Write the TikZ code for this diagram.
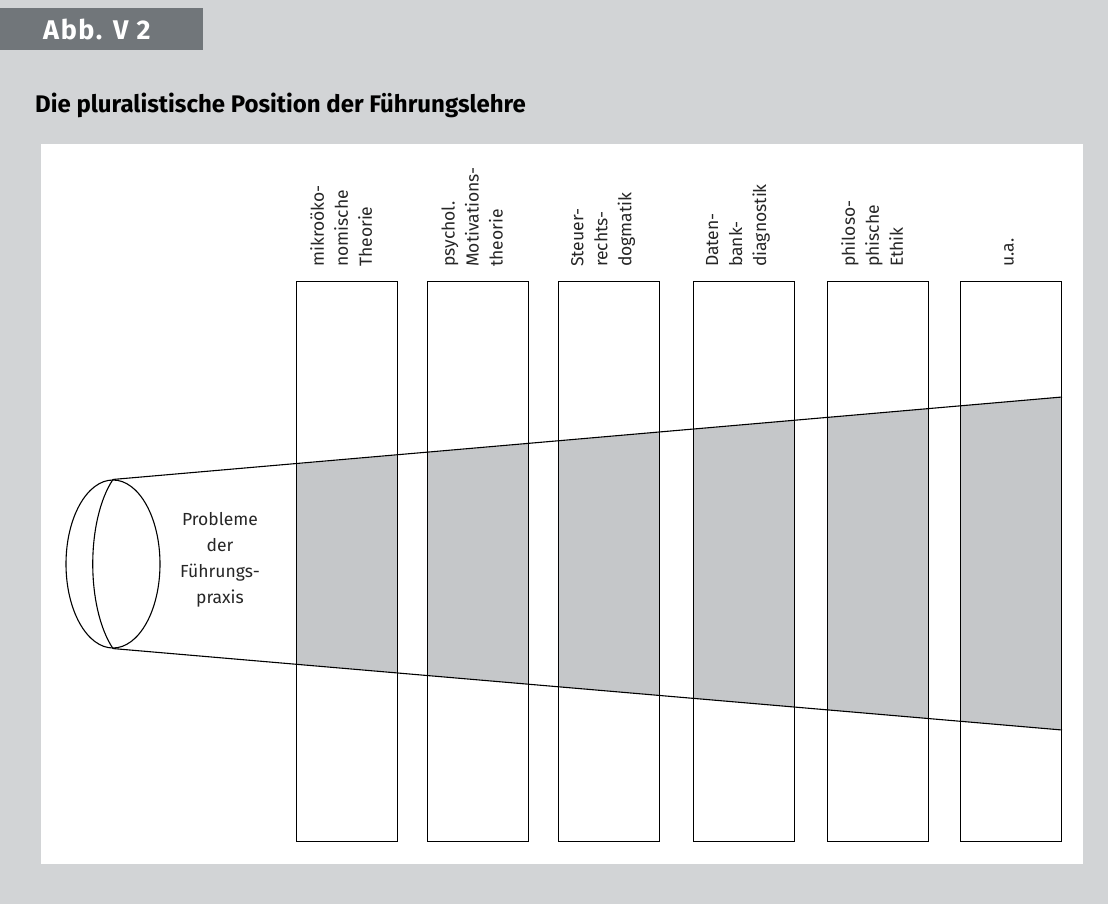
\documentclass[tikz,border=0pt]{standalone}
\usepackage{fontspec}
\setmainfont{Fira Sans}
\usetikzlibrary{shapes.geometric}
\definecolor{bggray}{HTML}{D2D4D6}
\definecolor{tabgray}{HTML}{71767A}
\definecolor{fillgray}{HTML}{C5C7C9}
\begin{document}
\begin{tikzpicture}[x=1pt,y=-1pt,
  colbox/.style={draw=black, line width=1.1pt, minimum width=101pt, minimum height=560pt, inner sep=0pt, anchor=north west},
  collabel/.style={rotate=90, anchor=west, align=left, font=\fontsize{17.5}{24}\selectfont, inner sep=0pt, text=black!85},
  edge/.style={line width=1.1pt}]
\useasboundingbox (0,0) rectangle (1108,904);
\fill[bggray] (0,0) rectangle (1108,904);
\fill[tabgray] (0,8) rectangle (203,50);
\node[anchor=west, text=white, font=\bfseries\fontsize{27}{30}\selectfont\addfontfeatures{LetterSpace=6}, inner sep=0pt] (tab) at (43,29) {Abb. V 2};
\node[anchor=base west, font=\bfseries\fontsize{24}{28}\selectfont, inner sep=0pt] (title) at (35,113) {Die pluralistische Position der Führungslehre};
\fill[white] (41,144) rectangle (1083,864);
% coordinates of the cone
\coordinate (tL) at (115,480);
\coordinate (bL) at (113,648);
\coordinate (tR) at (1062,397);
\coordinate (bR) at (1062,730);
% shaded parts
\foreach \x in {296,427,558,693,827,960}{
  \begin{scope}
    \clip (\x,281) rectangle ++(101,560);
    \fill[fillgray] (tL) -- (tR) -- (bR) -- (bL) -- cycle;
  \end{scope}
}
% columns
\node[colbox] (c1) at (296,281) {};
\node[colbox] (c2) at (427,281) {};
\node[colbox] (c3) at (558,281) {};
\node[colbox] (c4) at (693,281) {};
\node[colbox] (c5) at (827,281) {};
\node[colbox] (c6) at (960,281) {};
% labels
\node[collabel] (l1) at ([xshift=-6pt]c1.north |- 0,267) {mikroöko-\\nomische\\Theorie};
\node[collabel] (l2) at ([xshift=-6pt]c2.north |- 0,267) {psychol.\\Motivations-\\theorie};
\node[collabel] (l3) at ([xshift=-6pt]c3.north |- 0,267) {Steuer-\\rechts-\\dogmatik};
\node[collabel] (l4) at ([xshift=-6pt]c4.north |- 0,267) {Daten-\\bank-\\diagnostik};
\node[collabel] (l5) at ([xshift=-6pt]c5.north |- 0,267) {philoso-\\phische\\Ethik};
\node[collabel] (l6) at ([xshift=-2pt]c6.north |- 0,267) {u.a.};
% cone
\node[draw, ellipse, line width=1.1pt, minimum width=94pt, minimum height=168pt, inner sep=0pt] (ell) at (113,564) {};
\draw[edge] (ell.north) .. controls (86,520) and (86,608) .. (ell.south);
\draw[edge] (ell.north) -- (tR);
\draw[edge] (ell.south) -- (bR);
\node[align=center, font=\fontsize{17.5}{26}\selectfont, text=black!85] (prob) at (220,560) {Probleme\\der\\Führungs-\\praxis};
\end{tikzpicture}
\end{document}
